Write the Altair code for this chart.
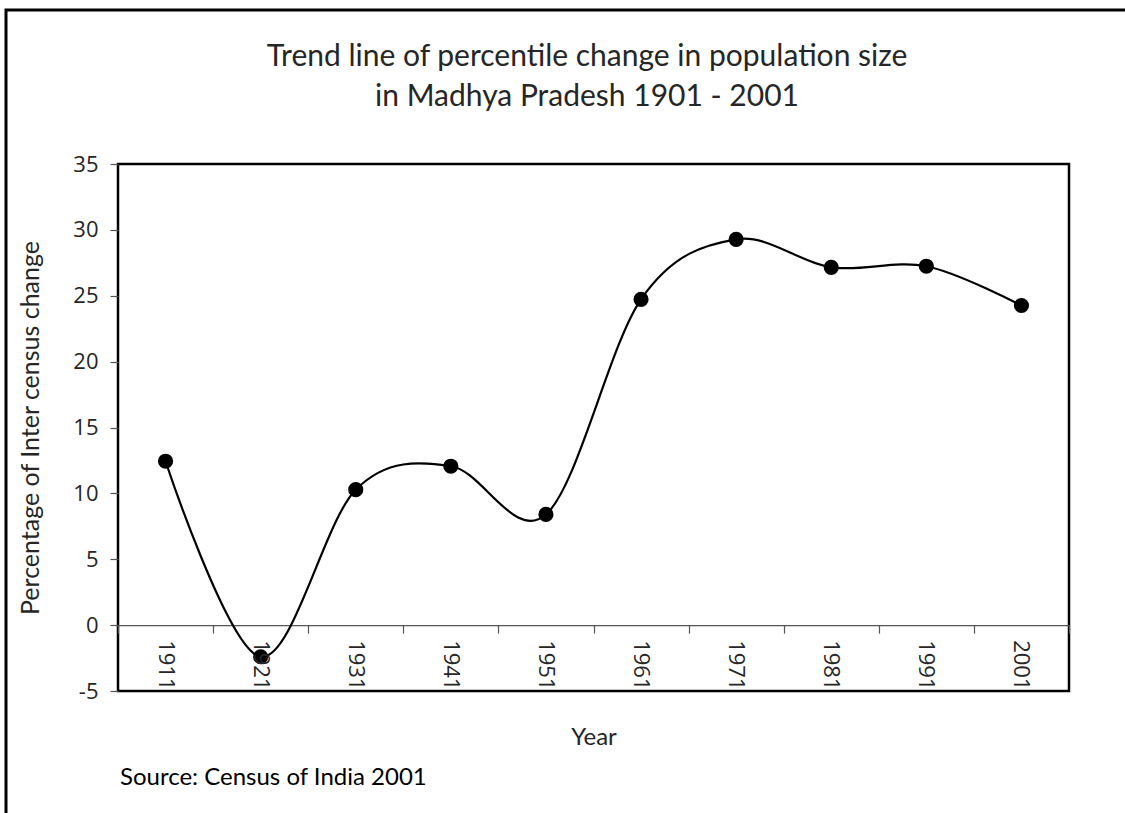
import altair as alt
import pandas as pd

years = ["1911", "1921", "1931", "1941", "1951", "1961", "1971", "1981", "1991", "2001"]
growth = [12.44, -2.40, 10.28, 12.06, 8.40, 24.73, 29.28, 27.16, 27.24, 24.26]
y_ticks = [-5, 0, 5, 10, 15, 20, 25, 30, 35]

title_text = "Trend line of percentile change in population size\nin Madhya Pradesh 1901 - 2001"
y_title = "Percentage of Inter census change"
x_title = "Year"
source_note = "Source: Census of India 2001"

W, H = 951, 527
PAD_L, PAD_T = 118, 164

df = pd.DataFrame({"year": years, "growth": growth})

TXT = "#262626"
TITLE_FONT = "Lato"
TICK_FONT = "Open Sans"

x_enc = alt.X(
    "year:O",
    sort=years,
    scale=alt.Scale(type="band", paddingInner=0, paddingOuter=0),
    axis=alt.Axis(
        labels=False,
        tickBand="extent",
        tickSize=8,
        tickColor="#555555",
        domainColor="#555555",
        domainWidth=1.2,
        tickWidth=1.2,
        offset=-(H * 5 / 40),
        grid=False,
        title=x_title,
        titleY=112,
        titleBaseline="middle",
        titleFont=TITLE_FONT,
        titleFontSize=24,
        titleFontWeight="normal",
        titleColor=TXT,
    ),
)
y_enc = alt.Y(
    "growth:Q",
    scale=alt.Scale(domain=[-5, 35], nice=False, zero=False),
    axis=alt.Axis(
        values=y_ticks,
        labelExpr="datum.value + ''",
        domain=False,
        grid=False,
        tickSize=8,
        tickColor="#555555",
        tickWidth=1.2,
        labelPadding=12,
        labelFont=TICK_FONT,
        labelFontSize=22,
        labelColor=TXT,
        title=y_title,
        titleX=-88,
        titleY=H / 2,
        titleAngle=-90,
        titleAlign="center",
        titleBaseline="middle",
        titleFont=TITLE_FONT,
        titleFontSize=25,
        titleFontWeight="normal",
        titleColor=TXT,
    ),
)

base = alt.Chart(df)

line = base.mark_line(interpolate="cardinal", color="black", strokeWidth=2.2).encode(x=x_enc, y=y_enc)
points = base.mark_circle(size=230, color="black", opacity=1).encode(x=x_enc, y=y_enc)
labels = base.mark_text(
    angle=90, align="left", baseline="middle", dx=15,
    font=TICK_FONT, fontSize=22, color=TXT, clip=True,
).encode(x=x_enc, y=alt.datum(0), text="year:N")

note_df = pd.DataFrame({"note": [source_note]})
note = alt.Chart(note_df).mark_text(
    align="left", baseline="middle", font=TITLE_FONT, fontSize=24, color="black"
).encode(x=alt.value(2), y=alt.value(778 - PAD_T), text="note:N")

title_df = pd.DataFrame({"t": [title_text]})
title = alt.Chart(title_df).mark_text(
    align="center", baseline="middle", lineBreak="\n", lineHeight=40,
    font=TITLE_FONT, fontSize=30, color=TXT,
).encode(x=alt.value(587 - PAD_L), y=alt.value(57 - PAD_T), text="t:N")

frame_df = pd.DataFrame({"k": [0]})
frame = alt.Chart(frame_df).mark_rect(
    fillOpacity=0, stroke="black", strokeWidth=3
).encode(
    x=alt.value(6 - PAD_L), x2=alt.value(1125 - PAD_L + 30),
    y=alt.value(10 - PAD_T), y2=alt.value(813 - PAD_T + 30),
)

chart = alt.layer(frame, line, points, labels, note, title).properties(
    width=W,
    height=H,
    autosize=alt.AutoSizeParams(type="none"),
    padding={"left": PAD_L, "top": PAD_T, "right": 1125 - PAD_L - W, "bottom": 813 - PAD_T - H},
).configure_view(
    stroke="black", strokeWidth=2.5
)

chart.save("out.html", embed_options={"renderer": "svg", "actions": False})
